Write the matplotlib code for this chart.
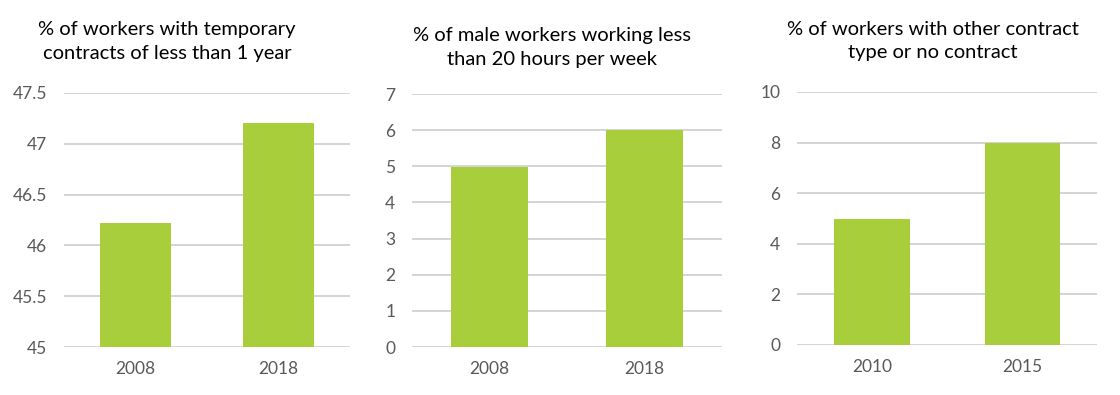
import matplotlib.pyplot as plt

plt.rcParams['font.family'] = ['Lato', 'DejaVu Sans']

# panel data
titles = ["% of workers with temporary\ncontracts of less than 1 year",
          "% of male workers working less\nthan 20 hours per week",
          "% of workers with other contract\ntype or no contract"]
years_1 = ["2008", "2018"]
values_1 = [46.22, 47.2]
years_2 = ["2008", "2018"]
values_2 = [4.97, 6.0]
years_3 = ["2010", "2015"]
values_3 = [4.97, 7.98]

ylims = [(45, 47.5), (0, 7), (0, 10)]
yticks = [[45, 45.5, 46, 46.5, 47, 47.5], list(range(0, 8)), [0, 2, 4, 6, 8, 10]]
ytick_labels = [["45", "45.5", "46", "46.5", "47", "47.5"],
                [str(v) for v in range(0, 8)],
                ["0", "2", "4", "6", "8", "10"]]

green = "#A8CE3B"
grid_col = "#D4D4D4"
text_col = "#595959"

fig = plt.figure(figsize=(11.2, 3.95), dpi=100)
positions = [[0.0571, 0.1215, 0.2554, 0.6431],
             [0.3679, 0.1215, 0.2767, 0.6405],
             [0.7116, 0.1266, 0.2679, 0.6405]]
title_xy = [(0.149, 0.895), (0.493, 0.88), (0.833, 0.897)]

panels = [(years_1, values_1), (years_2, values_2), (years_3, values_3)]
for i, (cats, vals) in enumerate(panels):
    ax = fig.add_axes(positions[i])
    x = range(len(cats))
    ax.bar(x, vals, width=0.5, color=green, zorder=3)
    ax.set_xlim(-0.5, 1.5)
    ax.set_ylim(*ylims[i])
    ax.set_yticks(yticks[i])
    ax.set_yticklabels(ytick_labels[i])
    ax.set_xticks(list(x))
    ax.set_xticklabels(cats)
    ax.yaxis.grid(True, color=grid_col, linewidth=1.4, zorder=0)
    for s in ax.spines.values():
        s.set_visible(False)
    ax.tick_params(axis='both', length=0, labelsize=12.5, colors=text_col)
    ax.tick_params(axis='y', pad=12)
    ax.tick_params(axis='x', pad=10)
    fig.text(title_xy[i][0], title_xy[i][1], titles[i], ha='center', va='center',
             fontsize=14.5, color='black', linespacing=1.45)

fig.savefig("out.png", dpi=100)
